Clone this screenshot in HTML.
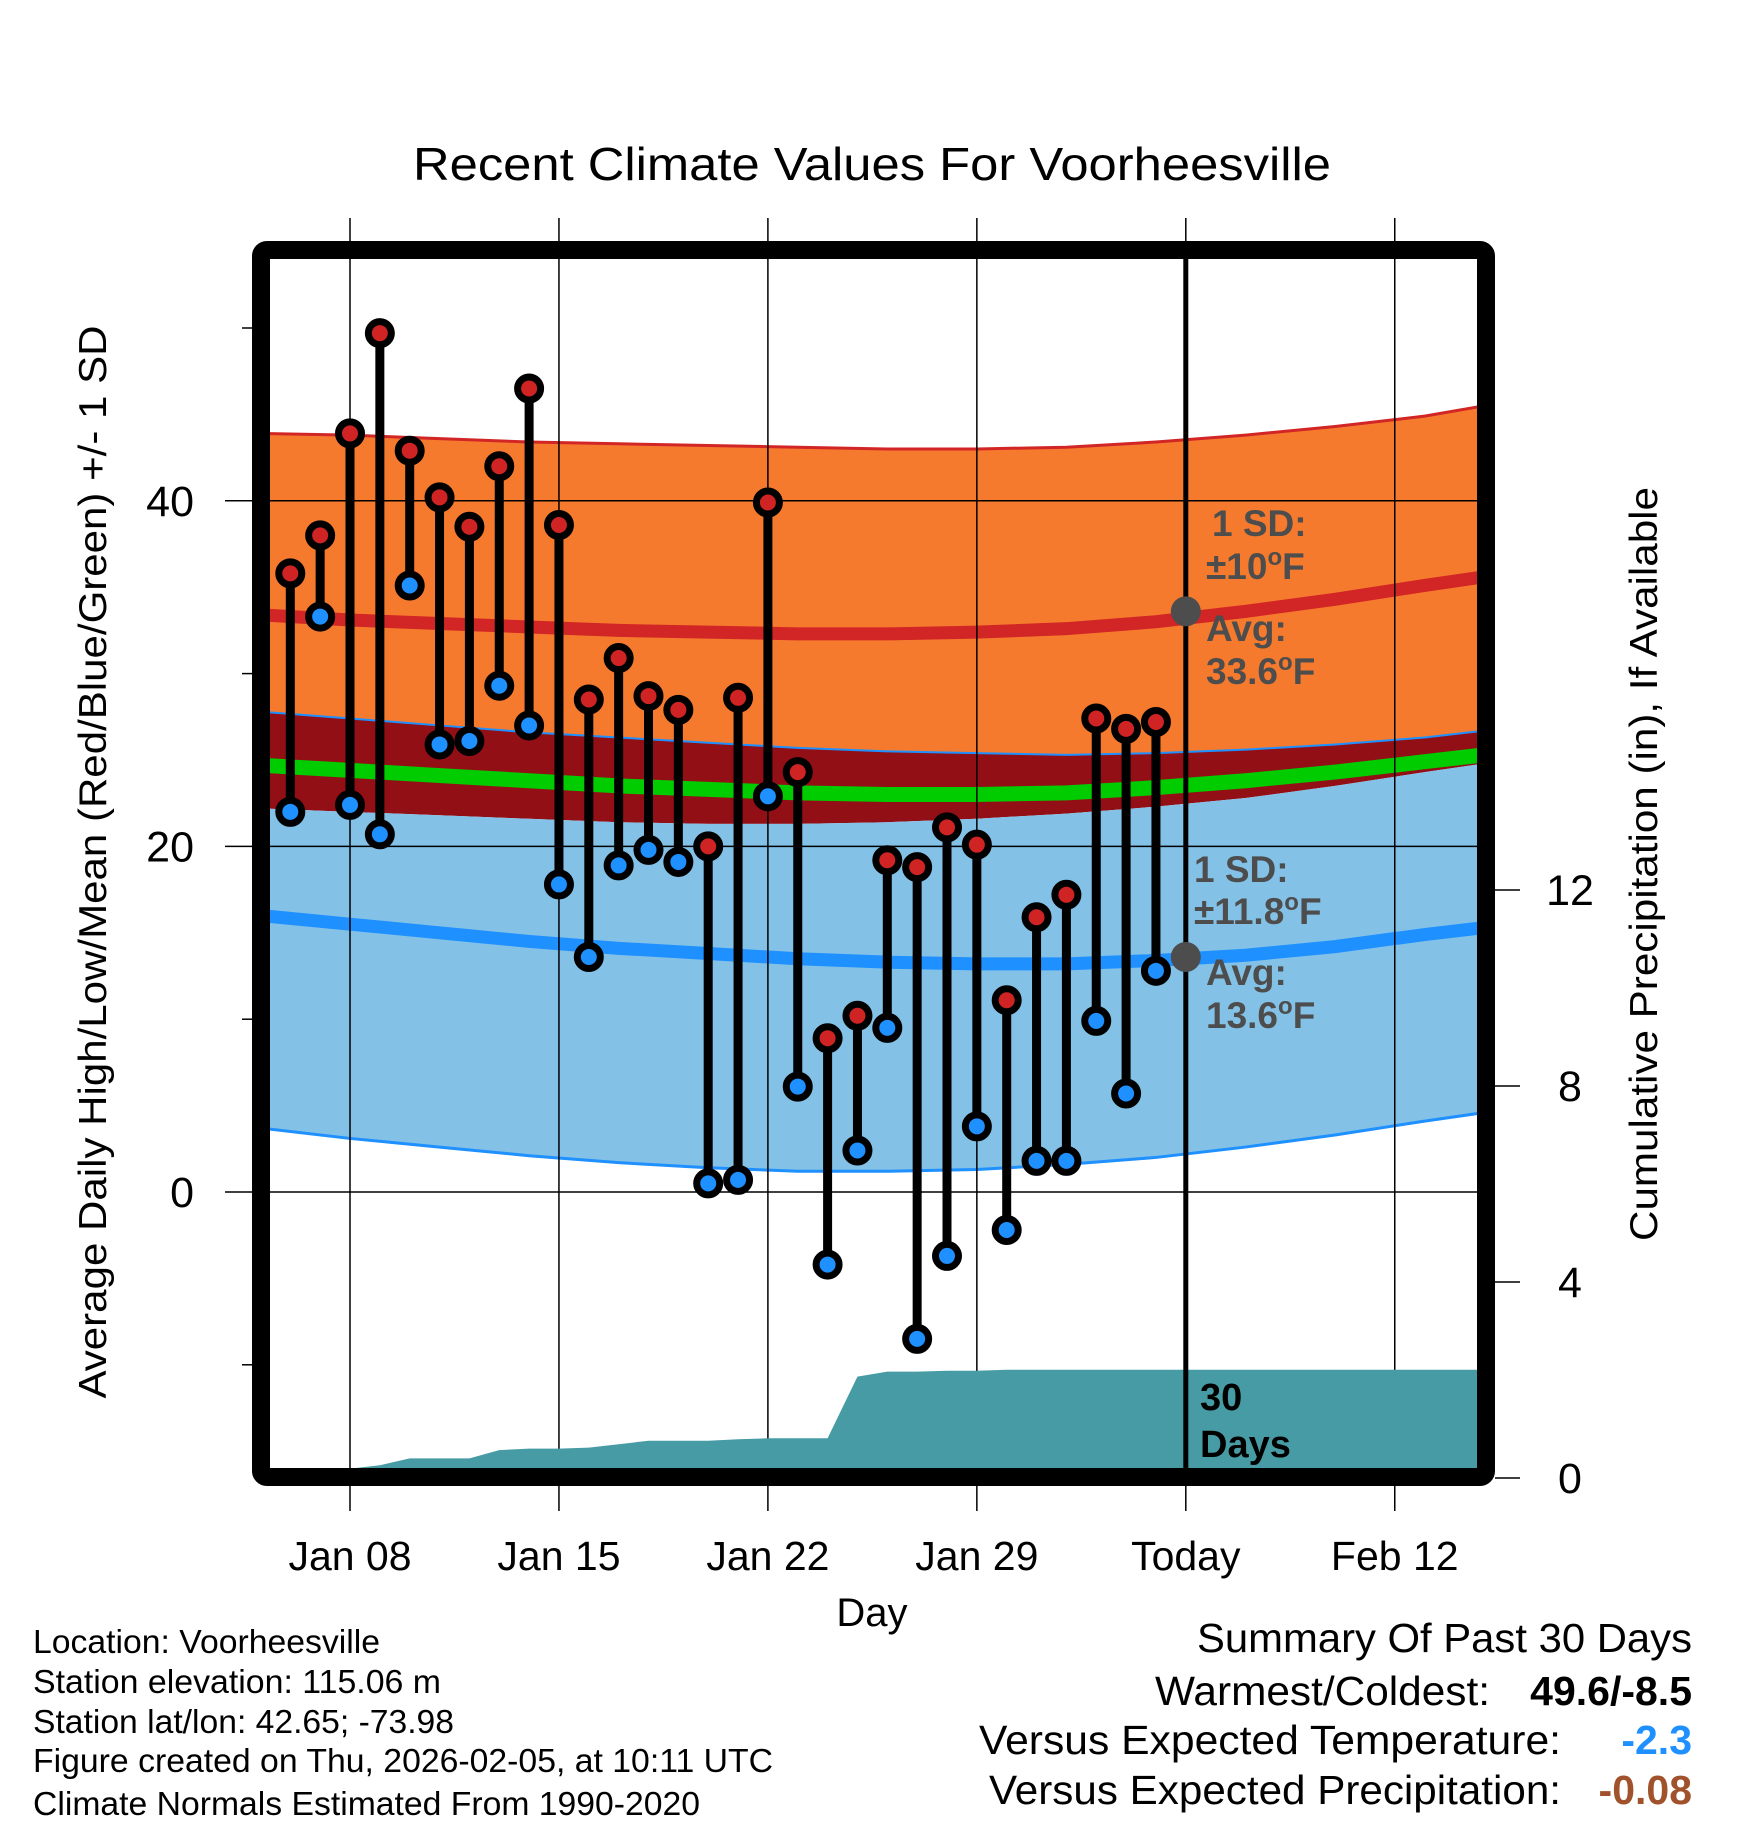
<!DOCTYPE html>
<html><head><meta charset="utf-8"><style>
html,body{margin:0;padding:0;background:#fff;}
svg{display:block;font-family:"Liberation Sans",Arial,sans-serif;}
</style></head><body>
<svg id="chart" width="1748" height="1828" viewBox="0 0 1748 1828" xmlns="http://www.w3.org/2000/svg">
<text x="872" y="180" font-size="46" text-anchor="middle" textLength="918" lengthAdjust="spacingAndGlyphs">Recent Climate Values For Voorheesville</text>
<g id="bands"></g>
<g id="grid"></g>
<g id="precip"></g>
<g id="todayg"></g>
<g id="marks"></g>
<g id="annot"></g>
<text transform="translate(106,862) rotate(-90)" font-size="39" text-anchor="middle" textLength="1073" lengthAdjust="spacingAndGlyphs">Average Daily High/Low/Mean (Red/Blue/Green) +/- 1 SD</text>
<text transform="translate(1657,864) rotate(-90)" font-size="39" text-anchor="middle" textLength="754" lengthAdjust="spacingAndGlyphs">Cumulative Precipitation (in), If Available</text>
<text x="872" y="1626" font-size="40" text-anchor="middle">Day</text>
<g font-size="33">
<text x="33" y="1653" textLength="347" lengthAdjust="spacingAndGlyphs">Location: Voorheesville</text>
<text x="33" y="1693" textLength="408" lengthAdjust="spacingAndGlyphs">Station elevation: 115.06 m</text>
<text x="33" y="1733" textLength="421" lengthAdjust="spacingAndGlyphs">Station lat/lon: 42.65; -73.98</text>
<text x="33" y="1772" textLength="740" lengthAdjust="spacingAndGlyphs">Figure created on Thu, 2026-02-05, at 10:11 UTC</text>
<text x="33" y="1815" textLength="667" lengthAdjust="spacingAndGlyphs">Climate Normals Estimated From 1990-2020</text>
</g>
<g font-size="41">
<text x="1692" y="1652" text-anchor="end" textLength="495" lengthAdjust="spacingAndGlyphs">Summary Of Past 30 Days</text>
<text x="1490" y="1705" text-anchor="end" textLength="335" lengthAdjust="spacingAndGlyphs">Warmest/Coldest:</text>
<text x="1692" y="1705" text-anchor="end" font-weight="bold">49.6/-8.5</text>
<text x="1561" y="1754" text-anchor="end" textLength="582" lengthAdjust="spacingAndGlyphs">Versus Expected Temperature:</text>
<text x="1692" y="1754" text-anchor="end" font-weight="bold" fill="#1e90ff">-2.3</text>
<text x="1561" y="1804" text-anchor="end" textLength="572" lengthAdjust="spacingAndGlyphs">Versus Expected Precipitation:</text>
<text x="1692" y="1804" text-anchor="end" font-weight="bold" fill="#a0522d">-0.08</text>
</g>
</svg>
<script>
// data (days offset from Jan 08)
const dayOffsets = [-2,-1,0,1,2,3,4,5,6,7,8,9,10,11,12,13,14,15,16,17,18,19,20,21,22,23,24,25,26,27];
const highs = [35.8,38.0,43.9,49.7,42.9,40.2,38.5,42.0,46.5,38.6,28.5,30.9,28.7,27.9,20.0,28.6,39.9,24.3,8.9,10.2,19.2,18.8,21.1,20.1,11.1,15.9,17.2,27.4,26.8,27.2];
const lows = [22.0,33.3,22.4,20.7,35.1,25.9,26.1,29.3,27.0,17.8,13.6,18.9,19.8,19.1,0.5,0.7,22.9,6.1,-4.2,2.4,9.5,-8.5,-3.7,3.8,-2.2,1.8,1.8,9.9,5.7,12.8];
const precip = [0.19,0.19,0.19,0.26,0.40,0.40,0.40,0.57,0.60,0.60,0.62,0.69,0.76,0.76,0.76,0.79,0.81,0.81,0.81,2.07,2.17,2.17,2.19,2.19,2.21,2.21,2.21,2.21,2.21,2.21];
const normDays = [-3,0,3,6,9,12,15,18,21,24,27,30,33,36,38];
const highUpper = [43.9,43.8,43.6,43.4,43.3,43.2,43.1,43.0,43.0,43.1,43.4,43.8,44.3,44.9,45.5];
const highAvg = [33.4,33.1,32.9,32.7,32.5,32.4,32.3,32.3,32.4,32.6,33.0,33.6,34.3,35.1,35.6];
const highLower = [27.8,27.4,27.0,26.6,26.3,26.0,25.7,25.5,25.4,25.3,25.4,25.6,25.9,26.3,26.7];
const meanAvg = [24.7,24.4,24.1,23.8,23.5,23.3,23.1,23.0,23.0,23.1,23.4,23.8,24.3,24.9,25.3];
const lowUpper = [22.2,22.0,21.8,21.6,21.4,21.3,21.3,21.4,21.6,21.9,22.3,22.8,23.5,24.3,24.8];
const lowAvg = [16.0,15.5,15.0,14.5,14.1,13.8,13.5,13.3,13.2,13.2,13.4,13.7,14.2,14.9,15.3];
const lowLower = [3.7,3.1,2.6,2.1,1.7,1.4,1.2,1.2,1.3,1.6,2.0,2.6,3.3,4.1,4.6];
const xTickDays = [0,7,14,21,28,35];
const xTickLabels = ["Jan 08","Jan 15","Jan 22","Jan 29","Today","Feb 12"];
const yTicks = [0,20,40];
const yMinor = [-10,10,30,50];
const y2Ticks = [0,4,8,12];
const todayDay = 28;
const todayHighAvg = 33.6, todayLowAvg = 13.6;

const NS="http://www.w3.org/2000/svg";
const L=270,R=1478,T=259,B=1468;
const x=d=>350+29.85*d;
const y=v=>1192-17.28*v;
const yp=p=>1478-49*p;
function mk(tag,attrs,parent){const e=document.createElementNS(NS,tag);for(const k in attrs)e.setAttribute(k,attrs[k]);parent.appendChild(e);return e;}
const svg=document.getElementById('chart');
const defs=mk('defs',{},svg);
const cp=mk('clipPath',{id:'plotclip'},defs);
mk('rect',{x:L,y:T,width:R-L,height:B-T},cp);
const bands=document.getElementById('bands');bands.setAttribute('clip-path','url(#plotclip)');


const pts=arr=>normDays.map((d,i)=>x(d)+','+y(arr[i]));
function area(up,lo,fill,name){const p=pts(up).concat(pts(lo).reverse()).join(' ');const e=mk('polygon',{points:p,fill:fill},bands);

}
function line(arr,stroke,w,name){const e=mk('polyline',{points:pts(arr).join(' '),fill:'none',stroke:stroke,'stroke-width':w},bands);

}
area(highUpper,highLower,'#f57a2e','high-sd-band');
area(highLower,lowUpper,'#920f16','overlap-band');
area(lowUpper,lowLower,'#83c1e7','low-sd-band');
line(highUpper,'#d22525',3,'high-upper-line');
line(highLower,'#1e90ff',2,'high-lower-line');
line(lowLower,'#1e90ff',3,'low-lower-line');
line(meanAvg,'#00cc00',15,'mean-line');
line(highAvg,'#d22525',13,'high-avg-line');
line(lowAvg,'#1e90ff',13,'low-avg-line');

// grid
const grid=document.getElementById('grid');
xTickDays.forEach((d,i)=>{
 const gl=mk('line',{x1:x(d),x2:x(d),y1:218,y2:1511,stroke:'#000','stroke-width':1.5},grid);
 
 
 const t=mk('text',{x:x(d),y:1570,'font-size':41,'text-anchor':'middle'},grid);t.textContent=xTickLabels[i];
 
 
});
yTicks.forEach(v=>{
 const gl=mk('line',{x1:225,x2:R,y1:y(v),y2:y(v),stroke:'#000','stroke-width':1.5},grid);
 
 
 const t=mk('text',{x:194,y:y(v)+15,'font-size':43,'text-anchor':'end'},grid);t.textContent=v;
 
 
});
yMinor.forEach(v=>{mk('line',{x1:242,x2:252,y1:y(v),y2:y(v),stroke:'#000','stroke-width':1.5},grid);});
y2Ticks.forEach(p=>{
 mk('line',{x1:1495,x2:1520,y1:yp(p),y2:yp(p),stroke:'#000','stroke-width':1.5},grid);
 const t=mk('text',{x:1570,y:yp(p)+15,'font-size':43,'text-anchor':'middle'},grid);t.textContent=p;
 
 
});

// precip area
const pg=document.getElementById('precip');pg.setAttribute('clip-path','url(#plotclip)');
let pp=[x(dayOffsets[0])+','+B];
pp.push(L+','+B);
dayOffsets.forEach((d,i)=>pp.push(x(d)+','+yp(precip[i])));
pp.push(R+','+yp(precip[precip.length-1]));pp.push(R+','+B);
const pa=mk('polygon',{points:pp.join(' '),fill:'#479ba4'},pg);



// today line
const tl=mk('line',{x1:x(todayDay),x2:x(todayDay),y1:250,y2:B,stroke:'#000','stroke-width':5},document.getElementById('todayg'));



// marks
const mg=document.getElementById('marks');
dayOffsets.forEach((d,i)=>{
 const g=mk('g',{},mg);
 
 
 mk('line',{x1:x(d),x2:x(d),y1:y(highs[i]),y2:y(lows[i]),stroke:'#000','stroke-width':9},g);
 const hi=mk('circle',{cx:x(d),cy:y(highs[i]),r:11.5,fill:'#d02424',stroke:'#000','stroke-width':7},g);
 
 
 const lo=mk('circle',{cx:x(d),cy:y(lows[i]),r:11.5,fill:'#1e90ff',stroke:'#000','stroke-width':7},g);
 
 
});

// annotations
const an=document.getElementById('annot');
[todayHighAvg,todayLowAvg].forEach(v=>{const c=mk('circle',{cx:x(todayDay),cy:y(v),r:15,fill:'#4d4d4d'},an);
 
 });
const labels=[[1212,536,'1 SD:'],[1206,579,'±10<tspan font-size="24" dy="-14">o</tspan><tspan dy="14">F</tspan>'],[1206,641,'Avg:'],[1206,684,'33.6<tspan font-size="24" dy="-14">o</tspan><tspan dy="14">F</tspan>'],
[1194,882,'1 SD:'],[1194,924,'±11.8<tspan font-size="24" dy="-14">o</tspan><tspan dy="14">F</tspan>'],[1206,985,'Avg:'],[1206,1028,'13.6<tspan font-size="24" dy="-14">o</tspan><tspan dy="14">F</tspan>']];
labels.forEach(l=>{const t=mk('text',{x:l[0],y:l[1],'font-size':37,'font-weight':'bold',fill:'#4d4d4d'},an);t.innerHTML=l[2];
 
 });
const d1=mk('text',{x:1200,y:1410,'font-size':38,'font-weight':'bold'},an);d1.textContent='30';


const d2=mk('text',{x:1200,y:1457,'font-size':38,'font-weight':'bold'},an);d2.textContent='Days';



// frame
const fr=mk('rect',{x:261,y:250,width:1225,height:1227,rx:6,fill:'none',stroke:'#000','stroke-width':18},svg);


</script>
</body></html>
